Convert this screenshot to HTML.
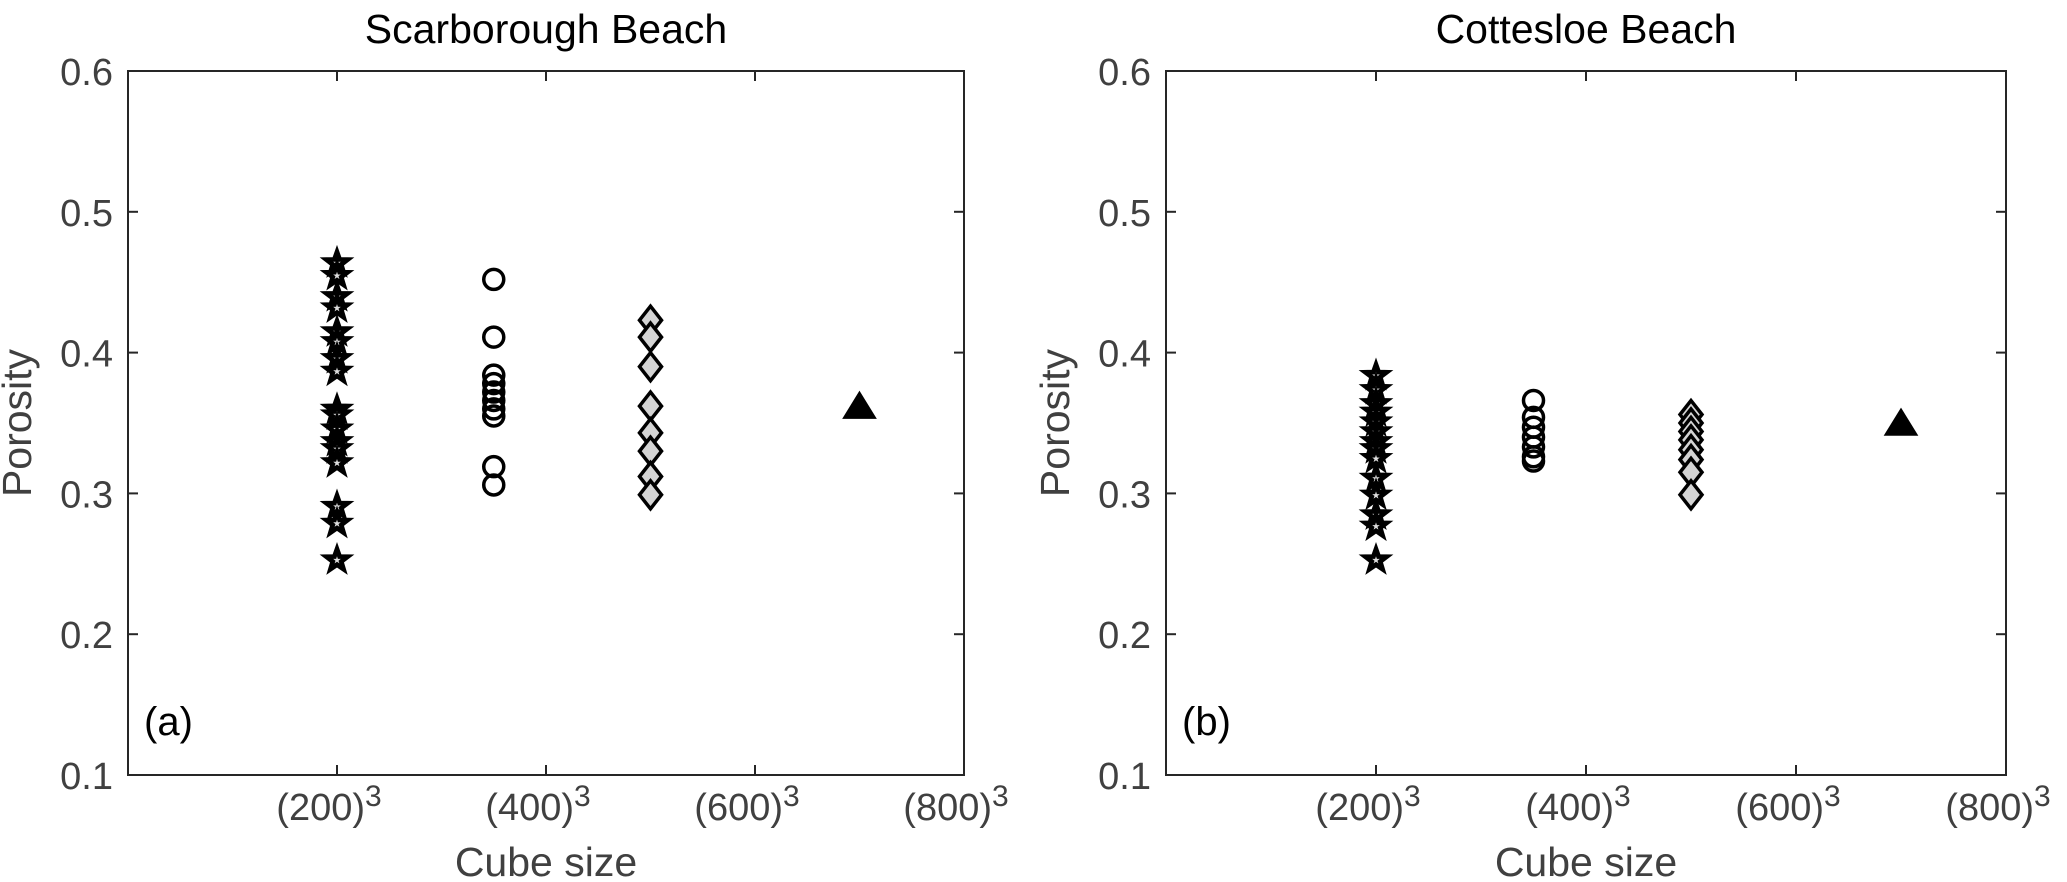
<!DOCTYPE html>
<html><head><meta charset="utf-8"><style>
body{margin:0;background:#fff;}
svg{display:block;font-family:"Liberation Sans",sans-serif;}
</style></head><body>
<svg id="chart" width="2067" height="882" viewBox="0 0 2067 882"></svg>
<script>
const xTicks=[200,400,600,800];
const xTickLabels=["(200)","(400)","(600)","(800)"];
const yTicks=[0.1,0.2,0.3,0.4,0.5,0.6];
const yTickLabels=["0.1","0.2","0.3","0.4","0.5","0.6"];
const titles=["Scarborough Beach","Cottesloe Beach"];
const panelLabels=["(a)","(b)"];
const xStar=200, xCircle=350, xDiamond=500, xTriangle=700;
const aStars=[0.465,0.456,0.441,0.433,0.416,0.409,0.397,0.388,0.361,0.357,0.347,0.338,0.333,0.323,0.292,0.280,0.254];
const aCircles=[0.452,0.411,0.384,0.378,0.372,0.366,0.360,0.355,0.319,0.306];
const aDiamonds=[0.423,0.411,0.390,0.362,0.343,0.330,0.312,0.299];
const aTriangle=[0.362];
const bStars=[0.385,0.375,0.365,0.359,0.352,0.345,0.338,0.333,0.326,0.312,0.300,0.286,0.278,0.254];
const bCircles=[0.366,0.354,0.347,0.340,0.333,0.326,0.323];
const bDiamonds=[0.356,0.350,0.344,0.338,0.331,0.324,0.315,0.299];
const bTriangle=[0.350];

const NS="http://www.w3.org/2000/svg";
const svg=document.getElementById('chart');
function mk(tag,attrs,parent){const e=document.createElementNS(NS,tag);for(const k in attrs)e.setAttribute(k,attrs[k]);(parent||svg).appendChild(e);return e;}
function starPts(cx,cy,R){const r=R*0.4;let p=[];for(let i=0;i<10;i++){const a=-Math.PI/2+i*Math.PI/5;const rr=i%2?r:R;p.push((cx+rr*Math.cos(a)).toFixed(1)+","+(cy+rr*Math.sin(a)).toFixed(1));}return p.join(" ");}

const panels=[{left:128,right:964,stars:aStars,circles:aCircles,diamonds:aDiamonds,tri:aTriangle},
              {left:1166,right:2006,stars:bStars,circles:bCircles,diamonds:bDiamonds,tri:bTriangle}];
const plotTop=71,plotBottom=775;
panels.forEach((P,pi)=>{
  const g=mk('g',{});
  
  
  const xS=v=>P.left+(v/800)*(P.right-P.left);
  const yS=v=>plotBottom-(v-0.1)/0.5*(plotBottom-plotTop);
  const box=mk('rect',{x:P.left,y:plotTop,width:P.right-P.left,height:plotBottom-plotTop,fill:'none',stroke:'#262626','stroke-width':2},g);
  
  
  xTicks.forEach((t,i)=>{
    const x=xS(t);
    mk('line',{x1:x,x2:x,y1:plotBottom,y2:plotBottom-10,stroke:'#262626','stroke-width':2},g);
    mk('line',{x1:x,x2:x,y1:plotTop,y2:plotTop+10,stroke:'#262626','stroke-width':2},g);
    const tx=mk('text',{x:x-8,y:820,'font-size':38,fill:'#404040','text-anchor':'middle'},g);
    tx.textContent=xTickLabels[i];
    const sup=mk('tspan',{dy:-14,'font-size':30},tx);sup.textContent='3';
    
    
  });
  yTicks.forEach((t,i)=>{
    const y=yS(t);
    mk('line',{x1:P.left,x2:P.left+10,y1:y,y2:y,stroke:'#262626','stroke-width':2},g);
    mk('line',{x1:P.right,x2:P.right-10,y1:y,y2:y,stroke:'#262626','stroke-width':2},g);
    const tx=mk('text',{x:P.left-15,y:y+14,'font-size':38,fill:'#404040','text-anchor':'end'},g);
    tx.textContent=yTickLabels[i];
    
    
  });
  const cx=(P.left+P.right)/2;
  const ti=mk('text',{x:cx,y:43,'font-size':41,fill:'#000','text-anchor':'middle'},g);
  ti.textContent=titles[pi];
  
  
  const xl=mk('text',{x:cx,y:876,'font-size':41,fill:'#404040','text-anchor':'middle'},g);
  xl.textContent='Cube size';
  
  
  const ylx=P.left-97;
  const yl=mk('text',{x:ylx,y:423,'font-size':41,fill:'#404040','text-anchor':'middle',transform:`rotate(-90 ${ylx} 423)`},g);
  yl.textContent='Porosity';
  
  
  const pl=mk('text',{x:P.left+16,y:735,'font-size':40,fill:'#000'},g);
  pl.textContent=panelLabels[pi];
  
  
  P.stars.forEach(v=>{
    const s=mk('polygon',{points:starPts(xS(xStar),yS(v)+2,16),fill:'#000',stroke:'#000','stroke-width':1.5},g);
    
    
    mk('polygon',{points:starPts(xS(xStar),yS(v)+2,4),fill:'#ddd'},g);
  });
  P.circles.forEach(v=>{
    const c=mk('circle',{cx:xS(xCircle),cy:yS(v),r:10,fill:'none',stroke:'#000','stroke-width':3.5},g);
    
    
  });
  P.diamonds.forEach(v=>{
    const x=xS(xDiamond),y=yS(v);
    const d=mk('polygon',{points:`${x},${y-14} ${x+11},${y} ${x},${y+14} ${x-11},${y}`,fill:'#d4d4d4',stroke:'#000','stroke-width':3.5},g);
    
    
  });
  P.tri.forEach(v=>{
    const x=xS(xTriangle),y=yS(v);
    const t=mk('polygon',{points:`${x},${y-14} ${x+16},${y+12} ${x-16},${y+12}`,fill:'#000',stroke:'#000','stroke-width':1.5},g);
    
    
  });
});
</script>
</body></html>
